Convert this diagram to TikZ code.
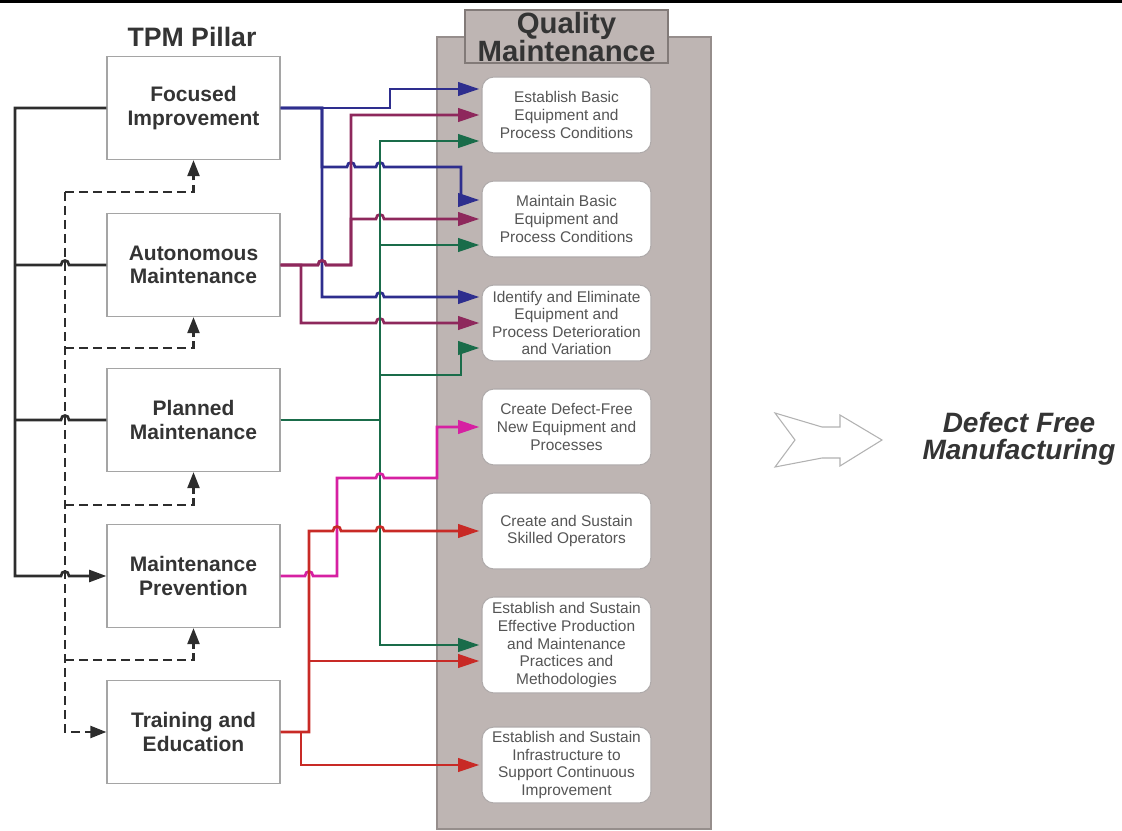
\documentclass[tikz,border=0pt]{standalone}
\usepackage{fontspec}
\setmainfont{Liberation Sans}
\usetikzlibrary{arrows.meta,calc}

\definecolor{cBlue}{RGB}{46,46,142}
\definecolor{cPurple}{RGB}{142,40,92}
\definecolor{cGreen}{RGB}{26,108,74}
\definecolor{cMag}{RGB}{214,32,162}
\definecolor{cRed}{RGB}{200,42,38}
\definecolor{panel}{RGB}{190,181,179}
\definecolor{panelEdge}{RGB}{150,142,140}
\definecolor{tabEdge}{RGB}{130,122,120}
\definecolor{ink}{RGB}{52,52,52}
\definecolor{rtext}{RGB}{85,85,85}
\definecolor{boxedge}{RGB}{165,165,165}
\definecolor{rboxedge}{RGB}{175,170,170}
\definecolor{kline}{RGB}{45,45,45}

% small hop of a horizontal wire over a vertical one at x = #1, y = #2
\newcommand\jmp[2]{-- ({#1-4},#2) .. controls ({#1-4},{#2-6}) and ({#1+4},{#2-6}) .. ({#1+4},#2)}

\begin{document}
\begin{tikzpicture}[x=0.75pt,y=-0.75pt,
  lbox/.style={draw=boxedge, line width=0.9pt, fill=white, minimum width=129.75pt,
    minimum height=77.25pt, inner sep=0pt, align=center,
    font=\fontsize{15.75}{17.8}\selectfont\bfseries, text=ink},
  rbox/.style={draw=rboxedge, line width=0.8pt, fill=white, rounded corners=9pt,
    minimum width=126.75pt, minimum height=57pt, inner sep=0pt, align=center,
    font=\fontsize{11.6}{13.2}\selectfont, text=rtext},
  wire/.style={line width=2pt, -{Triangle[length=16pt,width=10pt]}},
  ks/.style={line width=2pt, draw=kline},
  ds/.style={line width=1.6pt, draw=kline, dash pattern=on 7pt off 3.5pt,
    -{Triangle[length=12pt,width=9pt]}},
]
\useasboundingbox (0,0) rectangle (1122,831);
\fill[black] (0,0) rectangle (1122,3.5);

% headings
\node[font=\fontsize{20}{22}\selectfont\bfseries, text=ink] (tpm) at (192,37) {TPM Pillar};

% quality maintenance panel with its tab
\draw[fill=panel, draw=panelEdge, line width=0.8pt] (437,37) rectangle (711,829);
\draw[fill=panel, draw=tabEdge, line width=0.8pt] (465,10) rectangle (668,63);
\node[font=\fontsize{22}{21}\selectfont\bfseries, text=ink, align=center] (qm) at (566.5,37) {Quality\\Maintenance};

% TPM pillars
\node[lbox] (fi) at (193.5,108) {Focused\\Improvement};
\node[lbox] (am) at (193.5,265) {Autonomous\\Maintenance};
\node[lbox] (pm) at (193.5,420) {Planned\\Maintenance};
\node[lbox] (mp) at (193.5,576) {Maintenance\\Prevention};
\node[lbox] (te) at (193.5,732) {Training and\\Education};

% quality maintenance steps
\node[rbox] (t1) at (566.5,115) {Establish Basic\\Equipment and\\Process Conditions};
\node[rbox] (t2) at (566.5,219) {Maintain Basic\\Equipment and\\Process Conditions};
\node[rbox] (t3) at (566.5,323) {Identify and Eliminate\\Equipment and\\Process Deterioration\\and Variation};
\node[rbox] (t4) at (566.5,427) {Create Defect-Free\\New Equipment and\\Processes};
\node[rbox] (t5) at (566.5,531) {Create and Sustain\\Skilled Operators};
\node[rbox, minimum height=72pt] (t6) at (566.5,645) {Establish and Sustain\\Effective Production\\and Maintenance\\Practices and\\Methodologies};
\node[rbox] (t7) at (566.5,765) {Establish and Sustain\\Infrastructure to\\Support Continuous\\Improvement};

% left-hand feeds
\coordinate (kx) at (15,0);
\coordinate (d1) at (65,192);
\coordinate (d2) at (65,348);
\coordinate (d3) at (65,505);
\coordinate (d4) at (65,660);
\draw[ks, -{Triangle[length=13pt,width=9pt]}] (fi.west) -| (mp.west -| kx) \jmp{65}{576} -- (mp.west);
\draw[ks] (am.west -| kx) \jmp{65}{265} -- (am.west);
\draw[ks] (pm.west -| kx) \jmp{65}{420} -- (pm.west);

\draw[ds] (d1) |- (te.west);
\draw[ds] (d1) -| (fi.south);
\draw[ds] (d2) -| (am.south);
\draw[ds] (d3) -| (pm.south);
\draw[ds] (d4) -| (mp.south);

% Focused Improvement
\draw[wire,cBlue] (fi.east) -| (390,89) -- ($(t1.west)+(-2,-26)$);
\draw[wire,cBlue] (fi.east) -| (322,167) \jmp{351}{167} \jmp{380}{167} -| (461,200) -- ($(t2.west)+(-2,-19)$);
\draw[wire,cBlue] (fi.east) -| (322,297) \jmp{380}{297} -- ($(t3.west)+(-2,-26)$);

% Autonomous Maintenance
\draw[wire,cPurple] (am.east) \jmp{322}{265} -| (351,115) -- ($(t1.west)+(-2,0)$);
\draw[wire,cPurple] (am.east) \jmp{322}{265} -| (351,219) \jmp{380}{219} -- ($(t2.west)+(-2,0)$);
\draw[wire,cPurple] (am.east) -| (301,323) \jmp{380}{323} -- ($(t3.west)+(-2,0)$);

% Planned Maintenance
\draw[wire,cGreen] (pm.east) -| (380,141) -- ($(t1.west)+(-2,26)$);
\draw[wire,cGreen] (pm.east) -| (380,245) -- ($(t2.west)+(-2,26)$);
\draw[wire,cGreen] (pm.east) -| (380,375) -| (461,348) -- ($(t3.west)+(-2,25)$);
\draw[wire,cGreen] (pm.east) -| (380,645) -- ($(t6.west)+(-2,0)$);

% Maintenance Prevention
\draw[wire,cMag] (mp.east) \jmp{309}{576} -| (337,478) \jmp{380}{478} -| (437,427) -- ($(t4.west)+(-2,0)$);

% Training and Education
\draw[wire,cRed] (te.east) -| (309,531) \jmp{337}{531} \jmp{380}{531} -- ($(t5.west)+(-2,0)$);
\draw[wire,cRed] (te.east) -| (309,661) -- ($(t6.west)+(-2,16)$);
\draw[wire,cRed] (te.east) -| (301,765) -- ($(t7.west)+(-2,0)$);

% outcome
\draw[draw=gray!60, fill=white, line width=0.8pt, line join=miter]
  (775,413) -- (822,427) -- (840,427) -- (840,415) -- (882,440) -- (840,466)
  -- (840,458) -- (822,458) -- (775,467) -- (795,440) -- cycle;
\node[font=\fontsize{21}{20.5}\selectfont\bfseries\itshape, text=ink, align=center] (dfm) at (1019,439) {Defect Free\\Manufacturing};
\end{tikzpicture}
\end{document}
